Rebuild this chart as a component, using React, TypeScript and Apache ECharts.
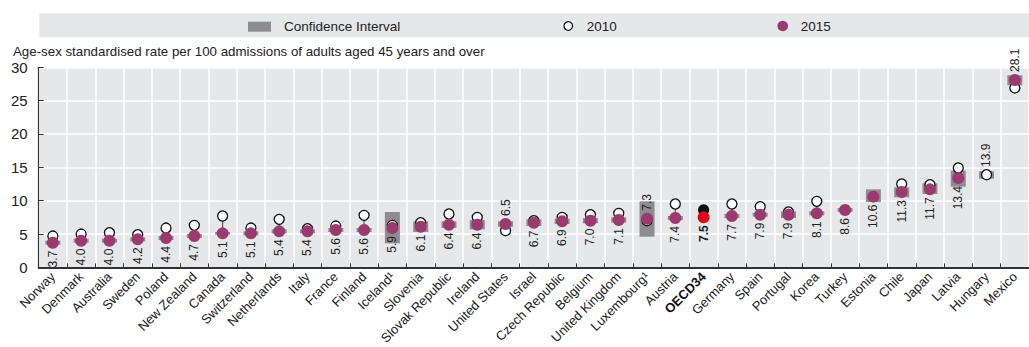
import React, { useEffect, useRef } from "react";
import * as echarts from "echarts";

const countries = [
  "Norway", "Denmark", "Australia", "Sweden", "Poland", "New Zealand", "Canada", "Switzerland",
  "Netherlands", "Italy", "France", "Finland", "Iceland¹", "Slovenia", "Slovak Republic", "Ireland",
  "United States", "Israel", "Czech Republic", "Belgium", "United Kingdom", "Luxembourg¹", "Austria",
  "OECD34", "Germany", "Spain", "Portugal", "Korea", "Turkey", "Estonia", "Chile", "Japan", "Latvia",
  "Hungary", "Mexico",
];
const values2015: (number | null)[] = [
  3.7, 4.0, 4.0, 4.2, 4.4, 4.7, 5.1, 5.1, 5.4, 5.4, 5.6, 5.6, 5.9, 6.1, 6.4, 6.4, 6.5, 6.7, 6.9, 7.0,
  7.1, 7.3, 7.4, 7.5, 7.7, 7.9, 7.9, 8.1, 8.6, 10.6, 11.3, 11.7, 13.4, null, 28.1,
];
const values2010: (number | null)[] = [
  4.7, 5.0, 5.2, 4.9, 5.9, 6.3, 7.7, 5.9, 7.2, 5.8, 6.2, 7.8, 6.3, 6.7, 8.0, 7.5, 5.5, 7.0, 7.5, 7.9,
  8.1, 7.0, 9.5, 8.6, 9.5, 9.1, 8.3, 9.9, null, null, 12.5, 12.4, 14.9, 13.9, 26.9,
];
const ciLow: (number | null)[] = [
  3.4, 3.7, 3.7, 3.9, 4.1, 4.4, 4.9, 4.8, 5.1, 5.1, 5.3, 5.3, 3.6, 5.3, 5.9, 5.7, 6.1, 6.2, 6.5, 6.6,
  6.7, 4.6, 7.1, null, 7.4, 7.6, 7.4, 7.8, 8.3, 9.8, 10.5, 11.0, 12.1, 13.3, 27.3,
];
const ciHigh: (number | null)[] = [
  4.0, 4.3, 4.3, 4.5, 4.7, 5.0, 5.3, 5.4, 5.7, 5.7, 5.9, 5.9, 8.3, 6.9, 6.9, 7.1, 6.9, 7.2, 7.3, 7.4,
  7.5, 9.9, 7.7, null, 8.0, 8.2, 8.4, 8.4, 8.9, 11.7, 12.0, 12.6, 14.5, 14.4, 28.8,
];
const labelAbove = ["United States", "Luxembourg¹", "Mexico"];
const highlight = "OECD34";
const legendNames = ["Confidence Interval", "2010", "2015"];
const titleText = "Age-sex standardised rate per 100 admissions of adults aged 45 years and over";

const FONT = "'Liberation Sans Narrow', 'Arial Narrow', 'Liberation Sans', Arial, sans-serif";
const PURPLE = "#9b3a6e";
const CI_GRAY = "#8d8d8f";

export default function App() {
  const ref = useRef<HTMLDivElement>(null);
  useEffect(() => {
    if (!ref.current) return;
    const chart = echarts.init(ref.current, null, { renderer: "svg" });

    const ciData = countries
      .map((_, i) => (ciLow[i] == null ? null : [i, ciLow[i], ciHigh[i]]))
      .filter((d) => d != null);
    const connData = countries
      .map((_, i) => (values2010[i] == null || values2015[i] == null ? null : [i, values2010[i], values2015[i]]))
      .filter((d) => d != null);

    const lblBase = {
      show: true,
      rotate: 90,
      fontFamily: FONT,
      fontSize: 12,
      color: "#222",
      verticalAlign: "middle",
    };

    const d2015 = countries
      .map((c, i) => {
        const v = values2015[i];
        if (v == null) return null;
        const above = labelAbove.includes(c);
        return {
          value: [i, v],
          itemStyle: c === highlight ? { color: "#e3001b" } : undefined,
          label: {
            ...lblBase,
            position: above ? [6, -2] : [6, 14],
            align: above ? "left" : "right",
            fontWeight: c === highlight ? "bold" : "normal",
            formatter: () => v.toFixed(1),
          },
        };
      })
      .filter((d) => d != null);

    const d2010 = countries
      .map((c, i) => {
        const v = values2010[i];
        if (v == null) return null;
        const onlyOld = values2015[i] == null;
        return {
          value: [i, v],
          itemStyle: c === highlight ? { color: "#111", borderColor: "#111" } : undefined,
          label: onlyOld
            ? { ...lblBase, position: [5, -2], align: "left", formatter: () => v.toFixed(1) }
            : { show: false },
        };
      })
      .filter((d) => d != null);

    chart.setOption({
      animation: false,
      grid: {
        left: 38.7,
        top: 67.3,
        width: 1003.4,
        height: 200.4,
        show: true,
        backgroundColor: "#e6e7e8",
        borderWidth: 0,
      },
      graphic: [
        { type: "rect", shape: { x: 39.3, y: 13.3, width: 1000, height: 24 }, style: { fill: "#e6e7e8" }, silent: true },
        { type: "rect", shape: { x: 248, y: 21.7, width: 23, height: 10 }, style: { fill: CI_GRAY } },
        { type: "text", x: 284, y: 26, style: { text: legendNames[0], fontFamily: FONT, fontSize: 13.5, fill: "#222", verticalAlign: "middle" } },
        { type: "circle", shape: { cx: 568.3, cy: 26, r: 4.3 }, style: { fill: "#fff", stroke: "#111", lineWidth: 1.3 } },
        { type: "text", x: 586.7, y: 26, style: { text: legendNames[1], fontFamily: FONT, fontSize: 13.5, fill: "#222", verticalAlign: "middle" } },
        { type: "circle", shape: { cx: 782.7, cy: 26, r: 5.3 }, style: { fill: PURPLE } },
        { type: "text", x: 800.7, y: 26, style: { text: legendNames[2], fontFamily: FONT, fontSize: 13.5, fill: "#222", verticalAlign: "middle" } },
        { type: "text", x: 13, y: 51, style: { text: titleText, fontFamily: FONT, fontSize: 13.3, fill: "#222", verticalAlign: "middle" } },
      ],
      xAxis: {
        type: "category",
        data: countries,
        boundaryGap: true,
        axisLine: { show: true, lineStyle: { color: "#333", width: 2 } },
        axisTick: { show: true, inside: true, length: 4, lineStyle: { color: "#333" } },
        splitLine: { show: true, lineStyle: { color: "#fff", width: 1.5 } },
        axisLabel: {
          rotate: 45,
          interval: 0,
          margin: 7,
          fontFamily: FONT,
          fontSize: 13,
          color: "#222",
          formatter: (v: string) => (v === highlight ? `{b|${v}}` : v),
          rich: { b: { fontWeight: "bold", fontFamily: FONT, fontSize: 13, color: "#111" } },
        },
      },
      yAxis: {
        type: "value",
        min: 0,
        max: 30,
        interval: 5,
        axisLine: { show: true, lineStyle: { color: "#333", width: 1.2 } },
        axisTick: { show: true, inside: true, length: 5, lineStyle: { color: "#333" } },
        splitLine: { show: true, lineStyle: { color: "#fff", width: 1.5 } },
        axisLabel: { margin: 11, fontFamily: FONT, fontSize: 15, color: "#222" },
      },
      series: [
        {
          type: "custom",
          name: legendNames[0],
          data: ciData,
          encode: { x: 0, y: [1, 2] },
          z: 1,
          renderItem: (_p: any, api: any) => {
            const x = api.value(0);
            const top = api.coord([x, api.value(2)]);
            const bot = api.coord([x, api.value(1)]);
            return {
              type: "rect",
              shape: { x: top[0] - 7.5, y: top[1], width: 15, height: bot[1] - top[1] },
              style: { fill: CI_GRAY },
            };
          },
        },
        {
          type: "custom",
          data: connData,
          encode: { x: 0, y: [1, 2] },
          z: 2,
          renderItem: (_p: any, api: any) => {
            const x = api.value(0);
            const a = api.coord([x, api.value(1)]);
            const b = api.coord([x, api.value(2)]);
            return {
              type: "line",
              shape: { x1: a[0], y1: a[1], x2: b[0], y2: b[1] },
              style: { stroke: "#555", lineWidth: 1.2 },
            };
          },
        },
        {
          type: "scatter",
          name: legendNames[1],
          data: d2010,
          symbol: "circle",
          symbolSize: 10,
          z: 3,
          itemStyle: { color: "#fff", borderColor: "#111", borderWidth: 1.3, opacity: 1 },
        },
        {
          type: "scatter",
          name: legendNames[2],
          data: d2015,
          symbol: "circle",
          symbolSize: 12,
          z: 4,
          itemStyle: { color: PURPLE, opacity: 1 },
        },
      ],
    });
    return () => chart.dispose();
  }, []);
  return <div ref={ref} style={{ position: "absolute", left: 0, top: 0, width: 1029, height: 347 }} />;
}
